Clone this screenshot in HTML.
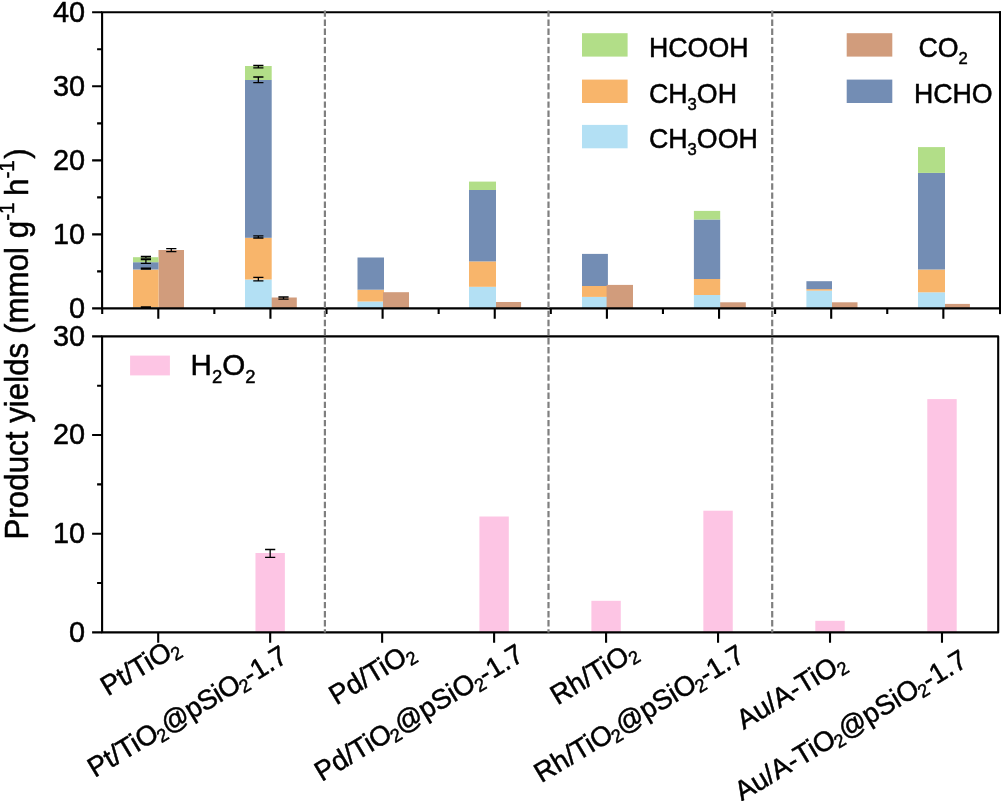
<!DOCTYPE html>
<html lang="en"><head><meta charset="utf-8"><title>Product yields</title>
<style>html,body{margin:0;padding:0;background:#fff}svg{display:block;will-change:transform}</style></head>
<body>
<svg width="1001" height="801" viewBox="0 0 1001 801"  fill="#000" stroke-linejoin="round">
<style>text{font-family:"Liberation Sans",sans-serif;stroke:#000;stroke-width:.5px}</style>
<rect width="1001" height="801" fill="#fff"/>
<rect x="158.50" y="250.00" width="25.50" height="58.40" fill="#d19c7c"/>
<rect x="133.00" y="307.30" width="25.50" height="1.10" fill="#b3e0f4"/>
<rect x="133.00" y="269.50" width="25.50" height="37.80" fill="#f8b56b"/>
<rect x="133.00" y="262.20" width="25.50" height="7.30" fill="#738db4"/>
<rect x="133.00" y="257.20" width="25.50" height="5.00" fill="#b2de88"/>
<rect x="270.20" y="297.50" width="26.60" height="10.90" fill="#d19c7c"/>
<rect x="245.00" y="279.50" width="26.70" height="28.90" fill="#b3e0f4"/>
<rect x="245.00" y="237.80" width="26.70" height="41.70" fill="#f8b56b"/>
<rect x="245.00" y="80.00" width="26.70" height="157.80" fill="#738db4"/>
<rect x="245.00" y="66.00" width="26.70" height="14.00" fill="#b2de88"/>
<rect x="357.50" y="301.50" width="26.50" height="6.90" fill="#b3e0f4"/>
<rect x="357.50" y="289.70" width="26.50" height="11.80" fill="#f8b56b"/>
<rect x="357.50" y="257.50" width="26.50" height="32.20" fill="#738db4"/>
<rect x="383.00" y="292.20" width="26.00" height="16.20" fill="#d19c7c"/>
<rect x="494.70" y="302.00" width="26.40" height="6.40" fill="#d19c7c"/>
<rect x="469.00" y="286.80" width="27.00" height="21.60" fill="#b3e0f4"/>
<rect x="469.00" y="261.40" width="27.00" height="25.40" fill="#f8b56b"/>
<rect x="469.00" y="190.00" width="27.00" height="71.40" fill="#738db4"/>
<rect x="469.00" y="181.60" width="27.00" height="8.40" fill="#b2de88"/>
<rect x="582.00" y="296.90" width="25.90" height="11.50" fill="#b3e0f4"/>
<rect x="582.00" y="286.00" width="25.90" height="10.90" fill="#f8b56b"/>
<rect x="582.00" y="253.90" width="25.90" height="32.10" fill="#738db4"/>
<rect x="606.60" y="284.90" width="26.40" height="23.50" fill="#d19c7c"/>
<rect x="719.20" y="302.30" width="26.60" height="6.10" fill="#d19c7c"/>
<rect x="693.90" y="295.00" width="26.30" height="13.40" fill="#b3e0f4"/>
<rect x="693.90" y="279.00" width="26.30" height="16.00" fill="#f8b56b"/>
<rect x="693.90" y="219.50" width="26.30" height="59.50" fill="#738db4"/>
<rect x="693.90" y="210.90" width="26.30" height="8.60" fill="#b2de88"/>
<rect x="830.90" y="302.30" width="26.60" height="6.10" fill="#d19c7c"/>
<rect x="806.40" y="290.60" width="25.60" height="17.80" fill="#b3e0f4"/>
<rect x="806.40" y="289.10" width="25.60" height="1.50" fill="#f8b56b"/>
<rect x="806.40" y="281.20" width="25.60" height="7.90" fill="#738db4"/>
<rect x="943.60" y="303.90" width="26.30" height="4.50" fill="#d19c7c"/>
<rect x="918.00" y="292.30" width="27.00" height="16.10" fill="#b3e0f4"/>
<rect x="918.00" y="269.50" width="27.00" height="22.80" fill="#f8b56b"/>
<rect x="918.00" y="172.90" width="27.00" height="96.60" fill="#738db4"/>
<rect x="918.00" y="147.10" width="27.00" height="25.80" fill="#b2de88"/>
<rect x="255.47" y="553.00" width="29.40" height="79.40" fill="#fdc5e4"/>
<rect x="479.41" y="516.50" width="29.40" height="115.90" fill="#fdc5e4"/>
<rect x="591.38" y="600.80" width="29.40" height="31.60" fill="#fdc5e4"/>
<rect x="703.35" y="510.70" width="29.40" height="121.70" fill="#fdc5e4"/>
<rect x="815.32" y="620.80" width="29.40" height="11.60" fill="#fdc5e4"/>
<rect x="927.29" y="399.10" width="29.40" height="233.30" fill="#fdc5e4"/>
<path d="M140.80 256.40H151.00M140.80 258.20H151.00M145.90 256.40V258.20" stroke="#000" stroke-width="1.3" fill="none"/>
<path d="M140.80 259.60H151.00M140.80 263.30H151.00M145.90 259.60V263.30" stroke="#000" stroke-width="1.3" fill="none"/>
<path d="M140.80 268.20H151.00M140.80 269.20H151.00M145.90 268.20V269.20" stroke="#000" stroke-width="1.3" fill="none"/>
<path d="M140.80 306.90H151.00M140.80 307.50H151.00M145.90 306.90V307.50" stroke="#000" stroke-width="1.3" fill="none"/>
<path d="M166.20 248.60H176.40M166.20 251.60H176.40M171.30 248.60V251.60" stroke="#000" stroke-width="1.3" fill="none"/>
<path d="M253.25 65.50H263.45M253.25 67.80H263.45M258.35 65.50V67.80" stroke="#000" stroke-width="1.3" fill="none"/>
<path d="M253.25 77.00H263.45M253.25 82.60H263.45M258.35 77.00V82.60" stroke="#000" stroke-width="1.3" fill="none"/>
<path d="M253.25 235.90H263.45M253.25 238.00H263.45M258.35 235.90V238.00" stroke="#000" stroke-width="1.3" fill="none"/>
<path d="M253.25 277.30H263.45M253.25 280.80H263.45M258.35 277.30V280.80" stroke="#000" stroke-width="1.3" fill="none"/>
<path d="M278.40 297.00H288.60M278.40 299.20H288.60M283.50 297.00V299.20" stroke="#000" stroke-width="1.3" fill="none"/>
<path d="M265.07 549.50H275.27M265.07 557.40H275.27M270.17 549.50V557.40" stroke="#000" stroke-width="1.3" fill="none"/>
<rect x="102.1" y="336.4" width="896.10" height="296.00" fill="none" stroke="#000" stroke-width="2.1"/>
<path d="M1001 12.3H102.1V308.4H1001" fill="none" stroke="#000" stroke-width="2.1" stroke-linejoin="miter"/>
<rect x="999" y="11.25" width="2" height="302.85" fill="#000"/>
<path d="M102.1 308.40h-10.0M102.1 271.39h-5.0M102.1 234.38h-10.0M102.1 197.36h-5.0M102.1 160.35h-10.0M102.1 123.34h-5.0M102.1 86.32h-10.0M102.1 49.31h-5.0M102.1 12.30h-10.0M102.1 632.40h-10.0M102.1 583.07h-5.0M102.1 533.73h-10.0M102.1 484.40h-5.0M102.1 435.07h-10.0M102.1 385.73h-5.0M102.1 336.40h-10.0M158.30 308.4v10.3M158.20 632.4v10.3M270.45 308.4v10.3M270.17 632.4v10.3M382.60 308.4v10.3M382.14 632.4v10.3M494.75 308.4v10.3M494.11 632.4v10.3M606.90 308.4v10.3M606.08 632.4v10.3M719.05 308.4v10.3M718.05 632.4v10.3M831.20 308.4v10.3M830.02 632.4v10.3M943.35 308.4v10.3M941.99 632.4v10.3M102.20 308.4v5.7M214.35 308.4v5.7M326.50 308.4v5.7M438.65 308.4v5.7M550.80 308.4v5.7M662.95 308.4v5.7M775.10 308.4v5.7M887.25 308.4v5.7" stroke="#000" stroke-width="2.1" fill="none"/>
<line x1="324.9" y1="10.4" x2="324.9" y2="632.4" stroke="#7f7f7f" stroke-width="2.2" stroke-dasharray="6.4 2.7"/>
<line x1="548.5" y1="10.4" x2="548.5" y2="632.4" stroke="#7f7f7f" stroke-width="2.2" stroke-dasharray="6.4 2.7"/>
<line x1="772.2" y1="10.4" x2="772.2" y2="632.4" stroke="#7f7f7f" stroke-width="2.2" stroke-dasharray="6.4 2.7"/>
<text transform="translate(85.20 317.70) scale(1 1.035)" font-size="28.9" text-anchor="end">0</text>
<text transform="translate(85.20 243.68) scale(1 1.035)" font-size="28.9" text-anchor="end">10</text>
<text transform="translate(85.20 169.65) scale(1 1.035)" font-size="28.9" text-anchor="end">20</text>
<text transform="translate(85.20 95.62) scale(1 1.035)" font-size="28.9" text-anchor="end">30</text>
<text transform="translate(85.20 21.60) scale(1 1.035)" font-size="28.9" text-anchor="end">40</text>
<text transform="translate(85.20 641.70) scale(1 1.035)" font-size="28.9" text-anchor="end">0</text>
<text transform="translate(85.20 543.03) scale(1 1.035)" font-size="28.9" text-anchor="end">10</text>
<text transform="translate(85.20 444.37) scale(1 1.035)" font-size="28.9" text-anchor="end">20</text>
<text transform="translate(85.20 345.70) scale(1 1.035)" font-size="28.9" text-anchor="end">30</text>
<text transform="translate(27.70 344.00) rotate(-90) scale(1 1.06)" font-size="31.35" text-anchor="middle">Product yields (mmol g<tspan font-size="20.7" dy="-13.3">-1</tspan><tspan dy="13.3" dx="-2.3"> h</tspan><tspan font-size="20.7" dy="-13.3">-1</tspan><tspan dy="13.3" dx="1.3">)</tspan></text>
<rect x="582.00" y="33.20" width="45.60" height="23.40" fill="#b2de88"/>
<text transform="translate(649.00 56.90) scale(1 1.045)" font-size="26.75">HCOOH</text>
<rect x="582.00" y="79.60" width="45.60" height="23.40" fill="#f8b56b"/>
<text transform="translate(649.00 102.90) scale(1 1.045)" font-size="26.75">CH<tspan font-size="16.6" dy="6.5">3</tspan><tspan dy="-6.5">OH</tspan></text>
<rect x="582.00" y="124.90" width="45.60" height="23.40" fill="#b3e0f4"/>
<text transform="translate(649.00 148.10) scale(1 1.045)" font-size="26.75">CH<tspan font-size="16.6" dy="6.5">3</tspan><tspan dy="-6.5">OOH</tspan></text>
<rect x="846.70" y="33.20" width="45.60" height="23.40" fill="#d19c7c"/>
<text transform="translate(918.40 56.70) scale(1 1.045)" font-size="26.75">CO<tspan font-size="16.6" dy="6.5">2</tspan></text>
<rect x="846.70" y="79.60" width="45.60" height="23.40" fill="#738db4"/>
<text transform="translate(913.90 102.90) scale(1 1.045)" font-size="26.75">HCHO</text>
<rect x="130.10" y="355.60" width="39.80" height="19.80" fill="#fdc5e4"/>
<text transform="translate(190.60 375.30) scale(1 1.0)" font-size="29.6">H<tspan font-size="18.4" dy="7.8">2</tspan><tspan dy="-7.8">O<tspan font-size="18.4" dy="7.8">2</tspan></tspan></text>
<text transform="translate(107.85 696.50) rotate(-31) scale(1 1.01)" font-size="27.5">Pt/TiO<tspan font-size="18.2" dy="4.6" dx="-0.6">2</tspan></text>
<text transform="translate(94.75 777.90) rotate(-31) scale(1 1.01)" font-size="27.5">Pt/TiO<tspan font-size="18.2" dy="4.6" dx="-1.8">2</tspan><tspan dy="-4.6" letter-spacing="-0.35">@pSiO</tspan><tspan font-size="18.2" dy="4.6" dx="-1.4">2</tspan><tspan dy="-4.6" dx="-0.4" letter-spacing="-0.35">-1.7</tspan></text>
<text transform="translate(336.35 705.50) rotate(-31) scale(1 1.01)" font-size="27.5">Pd/TiO<tspan font-size="18.2" dy="4.6" dx="-0.6">2</tspan></text>
<text transform="translate(321.75 781.90) rotate(-31) scale(1 1.01)" font-size="27.5">Pd/TiO<tspan font-size="18.2" dy="4.6" dx="-1.8">2</tspan><tspan dy="-4.6" letter-spacing="0">@pSiO</tspan><tspan font-size="18.2" dy="4.6" dx="-1.0">2</tspan><tspan dy="-4.6" dx="-0.4" letter-spacing="0">-1.7</tspan></text>
<text transform="translate(557.55 705.40) rotate(-31) scale(1 1.01)" font-size="27.5">Rh/TiO<tspan font-size="18.2" dy="4.6" dx="-0.6">2</tspan></text>
<text transform="translate(541.35 783.20) rotate(-31) scale(1 1.01)" font-size="27.5">Rh/TiO<tspan font-size="18.2" dy="4.6" dx="-1.8">2</tspan><tspan dy="-4.6" letter-spacing="0">@pSiO</tspan><tspan font-size="18.2" dy="4.6" dx="-1.4">2</tspan><tspan dy="-4.6" dx="-0.4" letter-spacing="0">-1.7</tspan></text>
<text transform="translate(743.80 729.90) rotate(-31) scale(1 1.01)" font-size="27.5">Au/A-TiO<tspan font-size="18.2" dy="4.6" dx="-0.6">2</tspan></text>
<text transform="translate(741.80 801.60) rotate(-31) scale(1 1.01)" font-size="27.5">Au/A-TiO<tspan font-size="18.2" dy="4.6" dx="-1.8">2</tspan><tspan dy="-4.6" letter-spacing="0">@pSiO</tspan><tspan font-size="18.2" dy="4.6" dx="-1.4">2</tspan><tspan dy="-4.6" dx="-0.4" letter-spacing="0">-1.7</tspan></text>
</svg>
</body></html>
